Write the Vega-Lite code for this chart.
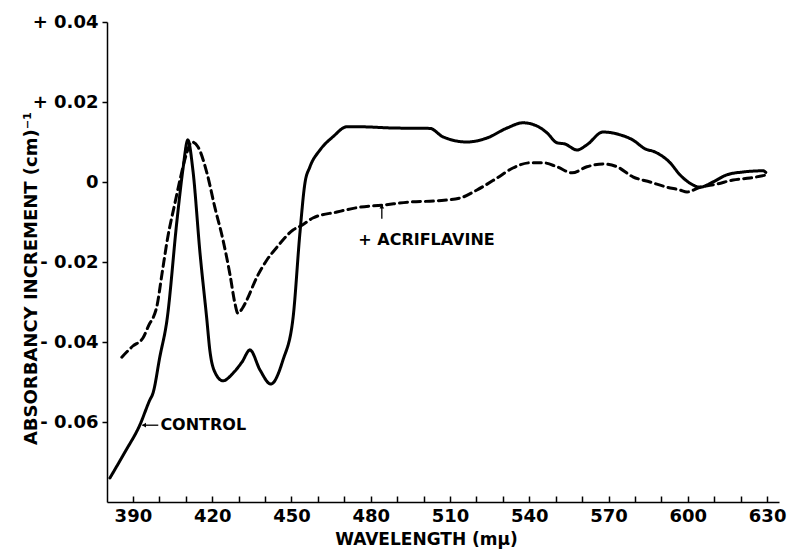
{
  "$schema": "https://vega.github.io/schema/vega-lite/v6.json",
  "width": 672,
  "height": 480,
  "autosize": {"type": "none"},
  "padding": {"left": 107, "top": 22, "right": 8, "bottom": 48},
  "background": "white",
  "config": {
    "view": {"stroke": null},
    "font": "DejaVu Sans",
    "axis": {"grid": false, "domainColor": "black", "tickColor": "black", "labelColor": "black", "titleColor": "black", "domainWidth": 1.5, "tickWidth": 1.5, "labelFont": "DejaVu Sans", "titleFont": "DejaVu Sans", "labelFontWeight": "bold", "titleFontWeight": "bold"}
  },
  "datasets": {
    "spectra": [
      {"series": "Control", "wl": 381.3, "abs": -0.0740},
      {"series": "Control", "wl": 387.0, "abs": -0.0675},
      {"series": "Control", "wl": 392.6, "abs": -0.0608},
      {"series": "Control", "wl": 396.4, "abs": -0.0545},
      {"series": "Control", "wl": 397.6, "abs": -0.0528},
      {"series": "Control", "wl": 400.2, "abs": -0.0437},
      {"series": "Control", "wl": 402.9, "abs": -0.0345},
      {"series": "Control", "wl": 406.7, "abs": -0.0095},
      {"series": "Control", "wl": 408.9, "abs": 0.0030},
      {"series": "Control", "wl": 410.8, "abs": 0.0105},
      {"series": "Control", "wl": 412.7, "abs": 0.0030},
      {"series": "Control", "wl": 415.4, "abs": -0.0178},
      {"series": "Control", "wl": 418.0, "abs": -0.0345},
      {"series": "Control", "wl": 419.1, "abs": -0.0420},
      {"series": "Control", "wl": 421.0, "abs": -0.0475},
      {"series": "Control", "wl": 424.1, "abs": -0.0497},
      {"series": "Control", "wl": 427.9, "abs": -0.0478},
      {"series": "Control", "wl": 431.3, "abs": -0.0450},
      {"series": "Control", "wl": 434.3, "abs": -0.0420},
      {"series": "Control", "wl": 438.1, "abs": -0.0470},
      {"series": "Control", "wl": 442.2, "abs": -0.0505},
      {"series": "Control", "wl": 446.8, "abs": -0.0445},
      {"series": "Control", "wl": 450.6, "abs": -0.0340},
      {"series": "Control", "wl": 453.2, "abs": -0.0128},
      {"series": "Control", "wl": 455.1, "abs": -0.0003},
      {"series": "Control", "wl": 457.0, "abs": 0.0038},
      {"series": "Control", "wl": 460.8, "abs": 0.0080},
      {"series": "Control", "wl": 465.7, "abs": 0.0113},
      {"series": "Control", "wl": 471.0, "abs": 0.0138},
      {"series": "Control", "wl": 476.0, "abs": 0.0138},
      {"series": "Control", "wl": 488.4, "abs": 0.0135},
      {"series": "Control", "wl": 502.4, "abs": 0.0134},
      {"series": "Control", "wl": 507.3, "abs": 0.0113},
      {"series": "Control", "wl": 516.4, "abs": 0.0100},
      {"series": "Control", "wl": 524.0, "abs": 0.0110},
      {"series": "Control", "wl": 531.6, "abs": 0.0135},
      {"series": "Control", "wl": 537.6, "abs": 0.0148},
      {"series": "Control", "wl": 542.9, "abs": 0.0140},
      {"series": "Control", "wl": 546.7, "abs": 0.0123},
      {"series": "Control", "wl": 550.5, "abs": 0.0098},
      {"series": "Control", "wl": 553.5, "abs": 0.0095},
      {"series": "Control", "wl": 558.1, "abs": 0.0080},
      {"series": "Control", "wl": 561.8, "abs": 0.0093},
      {"series": "Control", "wl": 567.9, "abs": 0.0125},
      {"series": "Control", "wl": 574.3, "abs": 0.0118},
      {"series": "Control", "wl": 579.2, "abs": 0.0105},
      {"series": "Control", "wl": 583.8, "abs": 0.0083},
      {"series": "Control", "wl": 587.6, "abs": 0.0075},
      {"series": "Control", "wl": 593.3, "abs": 0.0048},
      {"series": "Control", "wl": 597.0, "abs": 0.0018},
      {"series": "Control", "wl": 600.8, "abs": -0.0003},
      {"series": "Control", "wl": 604.6, "abs": -0.0013},
      {"series": "Control", "wl": 609.5, "abs": 0.0000},
      {"series": "Control", "wl": 614.8, "abs": 0.0018},
      {"series": "Control", "wl": 620.9, "abs": 0.0025},
      {"series": "Control", "wl": 628.5, "abs": 0.0028},
      {"series": "Control", "wl": 629.5, "abs": 0.0024},
      {"series": "Acriflavine", "wl": 385.8, "abs": -0.0438},
      {"series": "Acriflavine", "wl": 390.0, "abs": -0.0410},
      {"series": "Acriflavine", "wl": 393.8, "abs": -0.0390},
      {"series": "Acriflavine", "wl": 396.4, "abs": -0.0353},
      {"series": "Acriflavine", "wl": 397.6, "abs": -0.0340},
      {"series": "Acriflavine", "wl": 399.1, "abs": -0.0310},
      {"series": "Acriflavine", "wl": 401.0, "abs": -0.0230},
      {"series": "Acriflavine", "wl": 403.2, "abs": -0.0138},
      {"series": "Acriflavine", "wl": 405.9, "abs": -0.0053},
      {"series": "Acriflavine", "wl": 407.8, "abs": 0.0005},
      {"series": "Acriflavine", "wl": 410.4, "abs": 0.0073},
      {"series": "Acriflavine", "wl": 412.3, "abs": 0.0100},
      {"series": "Acriflavine", "wl": 414.6, "abs": 0.0088},
      {"series": "Acriflavine", "wl": 418.0, "abs": 0.0023},
      {"series": "Acriflavine", "wl": 421.0, "abs": -0.0063},
      {"series": "Acriflavine", "wl": 424.1, "abs": -0.0145},
      {"series": "Acriflavine", "wl": 426.7, "abs": -0.0230},
      {"series": "Acriflavine", "wl": 428.6, "abs": -0.0303},
      {"series": "Acriflavine", "wl": 429.7, "abs": -0.0328},
      {"series": "Acriflavine", "wl": 431.5, "abs": -0.0315},
      {"series": "Acriflavine", "wl": 433.1, "abs": -0.0295},
      {"series": "Acriflavine", "wl": 436.9, "abs": -0.0238},
      {"series": "Acriflavine", "wl": 440.7, "abs": -0.0195},
      {"series": "Acriflavine", "wl": 444.5, "abs": -0.0163},
      {"series": "Acriflavine", "wl": 450.6, "abs": -0.0120},
      {"series": "Acriflavine", "wl": 454.0, "abs": -0.0108},
      {"series": "Acriflavine", "wl": 458.1, "abs": -0.0090},
      {"series": "Acriflavine", "wl": 467.2, "abs": -0.0075},
      {"series": "Acriflavine", "wl": 475.9, "abs": -0.0063},
      {"series": "Acriflavine", "wl": 484.2, "abs": -0.0058},
      {"series": "Acriflavine", "wl": 494.8, "abs": -0.0050},
      {"series": "Acriflavine", "wl": 505.1, "abs": -0.0047},
      {"series": "Acriflavine", "wl": 513.8, "abs": -0.0040},
      {"series": "Acriflavine", "wl": 520.2, "abs": -0.0020},
      {"series": "Acriflavine", "wl": 527.8, "abs": 0.0010},
      {"series": "Acriflavine", "wl": 533.8, "abs": 0.0035},
      {"series": "Acriflavine", "wl": 540.3, "abs": 0.0048},
      {"series": "Acriflavine", "wl": 545.2, "abs": 0.0048},
      {"series": "Acriflavine", "wl": 550.5, "abs": 0.0038},
      {"series": "Acriflavine", "wl": 556.2, "abs": 0.0023},
      {"series": "Acriflavine", "wl": 561.8, "abs": 0.0038},
      {"series": "Acriflavine", "wl": 567.9, "abs": 0.0045},
      {"series": "Acriflavine", "wl": 573.2, "abs": 0.0038},
      {"series": "Acriflavine", "wl": 579.2, "abs": 0.0013},
      {"series": "Acriflavine", "wl": 585.7, "abs": 0.0000},
      {"series": "Acriflavine", "wl": 592.1, "abs": -0.0013},
      {"series": "Acriflavine", "wl": 597.0, "abs": -0.0020},
      {"series": "Acriflavine", "wl": 599.7, "abs": -0.0025},
      {"series": "Acriflavine", "wl": 604.6, "abs": -0.0013},
      {"series": "Acriflavine", "wl": 611.0, "abs": -0.0005},
      {"series": "Acriflavine", "wl": 617.1, "abs": 0.0005},
      {"series": "Acriflavine", "wl": 623.5, "abs": 0.0010},
      {"series": "Acriflavine", "wl": 630.0, "abs": 0.0018}
    ],
    "labels": [
      {"text": "CONTROL", "wl": 400.4, "abs": -0.0608},
      {"text": "+ ACRIFLAVINE", "wl": 475.3, "abs": -0.0146}
    ],
    "pointers": [
      {"wl": 399.6, "abs": -0.0608, "wl2": 393.6, "abs2": -0.0608},
      {"wl": 484.2, "abs": -0.0092, "wl2": 484.2, "abs2": -0.0057}
    ],
    "heads": [
      {"wl": 394.2, "abs": -0.0608, "dir": "left"},
      {"wl": 484.2, "abs": -0.0061, "dir": "up"}
    ]
  },
  "resolve": {"axis": {"x": "independent"}},
  "layer": [
    {
      "data": {"name": "spectra"},
      "mark": {"type": "line", "interpolate": "monotone", "color": "black", "strokeWidth": 3, "strokeCap": "round"},
      "encoding": {
        "x": {
          "field": "wl", "type": "quantitative",
          "scale": {"domain": [380.2, 634.5], "nice": false, "zero": false},
          "axis": {
            "orient": "bottom",
            "title": "WAVELENGTH   (mμ)",
            "values": [390, 400, 410, 420, 430, 440, 450, 460, 470, 480, 490, 500, 510, 520, 530, 540, 550, 560, 570, 580, 590, 600, 610, 620, 630],
            "labels": false,
            "tickSize": -6,
            "titleFontSize": 17,
            "titleX": 319,
            "titleY": 42,
            "titleBaseline": "alphabetic"
          }
        },
        "y": {
          "field": "abs", "type": "quantitative",
          "scale": {"domain": [-0.08, 0.04], "nice": false, "zero": false},
          "axis": {
            "title": "ABSORBANCY INCREMENT   (cm)⁻¹",
            "values": [-0.06, -0.04, -0.02, 0, 0.02, 0.04],
            "labelExpr": "datum.value > 0.0001 ? '+ ' + format(datum.value, '.2f') : (datum.value < -0.0001 ? '- ' + format(-datum.value, '.2f') : '0')",
            "labelOverlap": false,
            "tickSize": 5,
            "labelPadding": 4,
            "labelFontSize": 18,
            "titleFontSize": 18,
            "titleX": -76,
            "titleY": 256,
            "titleAngle": -90,
            "titleAlign": "center",
            "titleBaseline": "middle"
          }
        },
        "detail": {"field": "series"},
        "strokeDash": {
          "field": "series", "type": "nominal",
          "scale": {"domain": ["Control", "Acriflavine"], "range": [[1, 0], [8, 5]]},
          "legend": null
        }
      }
    },
    {
      "data": {"name": "pointers"},
      "mark": {"type": "rule", "color": "black", "strokeWidth": 1.3},
      "encoding": {
        "x": {
          "field": "wl", "type": "quantitative",
          "axis": {
            "orient": "bottom",
            "title": null,
            "domain": false,
            "ticks": false,
            "values": [390, 420, 450, 480, 510, 540, 570, 600, 630],
            "labelOverlap": false,
            "labelPadding": 5,
            "labelFontSize": 18
          }
        },
        "y": {"field": "abs", "type": "quantitative"},
        "x2": {"field": "wl2"},
        "y2": {"field": "abs2"}
      }
    },
    {
      "data": {"name": "heads"},
      "mark": {"type": "point", "filled": true, "color": "black", "size": 22, "opacity": 1},
      "encoding": {
        "x": {"field": "wl", "type": "quantitative", "axis": null},
        "y": {"field": "abs", "type": "quantitative"},
        "shape": {
          "field": "dir", "type": "nominal",
          "scale": {"domain": ["left", "up"], "range": ["triangle-left", "triangle-up"]},
          "legend": null
        }
      }
    },
    {
      "data": {"name": "labels"},
      "mark": {"type": "text", "align": "left", "baseline": "middle", "fontSize": 16, "fontWeight": "bold", "font": "DejaVu Sans", "color": "black"},
      "encoding": {
        "x": {"field": "wl", "type": "quantitative", "axis": null},
        "y": {"field": "abs", "type": "quantitative"},
        "text": {"field": "text"}
      }
    }
  ]
}
